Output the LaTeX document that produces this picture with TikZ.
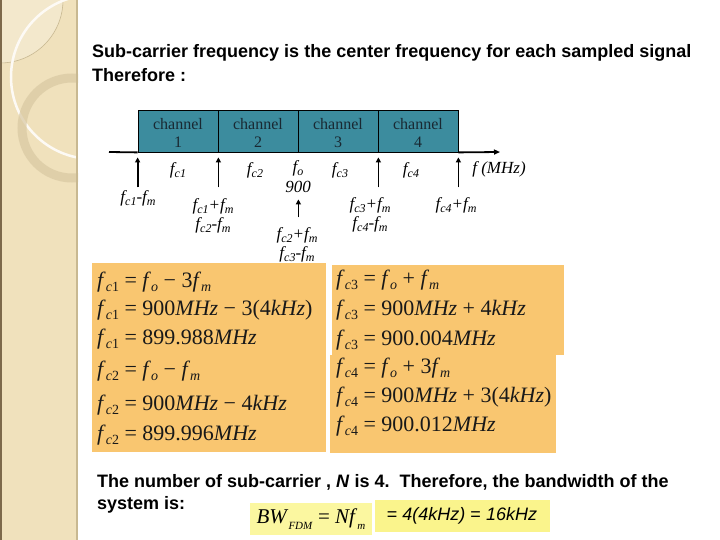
\documentclass[tikz,border=0pt]{standalone}
\usepackage{fontspec}
\setmainfont{Liberation Serif}
\newfontfamily\arialf{Liberation Sans}
\usetikzlibrary{arrows.meta}
\definecolor{side}{RGB}{240,225,188}
\definecolor{sideedge}{RGB}{125,105,75}
\definecolor{sideright}{RGB}{200,184,145}
\definecolor{chteal}{RGB}{60,140,158}
\definecolor{chtext}{RGB}{25,40,50}
\definecolor{eqorange}{RGB}{249,198,112}
\definecolor{ylwA}{RGB}{251,247,160}
\definecolor{ylwB}{RGB}{250,244,140}
\newcommand\es[1]{\raisebox{-4pt}{\fontsize{14}{14}\selectfont #1}}
\newcommand\ff[1]{\textit{f}\es{#1}}
\newcommand\ls[1]{\raisebox{-3pt}{\fontsize{12}{12}\selectfont #1}}
\newcommand\lf[1]{f\ls{#1}}
\newcommand\chtxt[1]{\raisebox{-2pt}[\dimexpr\height+2pt\relax][\dimexpr\depth-2pt\relax]{\begin{tabular}{@{}c@{}}channel\\[0pt]#1\end{tabular}}}
\begin{document}
\begin{tikzpicture}[x=1pt,y=-1pt,
  chbox/.style={draw=black,line width=0.8pt,fill=chteal,text=chtext,minimum width=80pt,minimum height=42pt,inner sep=0pt,font=\fontsize{16}{18}\selectfont},
  lbl/.style={inner sep=0pt,align=center,font=\itshape\fontsize{17}{19}\selectfont},
  axisline/.style={line width=1.8pt},
  uparr/.style={line width=1.8pt,-{Triangle[length=5pt,width=5pt]}},
  eq/.style={anchor=west,inner sep=0pt,font=\fontsize{22}{26}\selectfont,text=black!90},
  para/.style={anchor=west,inner sep=0pt,font=\arialf\bfseries\fontsize{18}{21}\selectfont}]
\useasboundingbox (0,0) rectangle (720,540);
\fill[white] (0,0) rectangle (720,540);
% sidebar
\begin{scope}
  \clip (0,0) rectangle (78,540);
  \fill[side] (0,0) rectangle (78,540);
  \fill[white,opacity=0.25] (0,0) circle (63pt);
  \draw[sideright,line width=0.6pt] (0,0) circle (63pt);
  \draw[white!85!side,line width=2.5pt] (93,77) circle (82pt);
  \draw[sideright!60!side,line width=9pt,opacity=0.7] (72,128) circle (50pt);
\end{scope}
\draw[sideedge,line width=2pt] (1,0) -- (1,540);
\draw[sideright,line width=2pt] (77,0) -- (77,540);
% title
\node[para] (t1) at (92,53) {Sub-carrier frequency is the center frequency for each sampled signal};
\node[para] (t2) at (92,75) {Therefore :};
% channels
\node[chbox] (ch1) at (178,131) {\chtxt{1}};
\node[chbox] (ch2) at (258,131) {\chtxt{2}};
\node[chbox] (ch3) at (338,131) {\chtxt{3}};
\node[chbox] (ch4) at (418,131) {\chtxt{4}};
\coordinate (ax0) at (109,152);
\coordinate (ax1) at (500,152);
\draw[axisline] (ax0) -- (ch1.south west);
\draw[axisline,-{Triangle[length=6pt,width=5pt]}] (ch4.south east) -- (ax1);
% arrows
\draw[uparr] ([yshift=-35pt]ch1.south west) -- ([yshift=-5pt]ch1.south west);
\draw[uparr] ([yshift=-35pt]ch1.south east) -- ([yshift=-5pt]ch1.south east);
\draw[uparr] ([yshift=-65pt]ch2.south east) -- ([yshift=-47pt]ch2.south east);
\draw[uparr] ([yshift=-35pt]ch3.south east) -- ([yshift=-5pt]ch3.south east);
\draw[uparr] ([yshift=-35pt]ch4.south east) -- ([yshift=-5pt]ch4.south east);
% labels
\node[lbl] (fc1) at (178,170) {\lf{c1}};
\node[lbl] (fc2) at (255,170) {\lf{c2}};
\node[lbl] (fo) at (298,168) {\lf{o}};
\node[lbl] (f900) at (298,187) {900};
\node[lbl] (fc3) at (340,170) {\lf{c3}};
\node[lbl] (fc4) at (411,170) {\lf{c4}};
\node[lbl] (fmhz) at (499,169) {f (MHz)};
\node[lbl] (l1) at (138,198) {\lf{c1}-\lf{m}};
\node[lbl] (l2) at (213,216) {\lf{c1}+\lf{m}\\\lf{c2}-\lf{m}};
\node[lbl] (l3) at (297,245) {\lf{c2}+\lf{m}\\\lf{c3}-\lf{m}};
\node[lbl] (l4) at (370,215) {\lf{c3}+\lf{m}\\\lf{c4}-\lf{m}};
\node[lbl] (l5) at (456,205) {\lf{c4}+\lf{m}};
% equation boxes
\fill[eqorange] (92,263) rectangle (326,452);
\fill[eqorange] (332,265) rectangle (564,355);
\fill[eqorange] (330,355) rectangle (556,453);
\node[eq] (e1) at (97,282) {\ff{\textit{c}1} = \ff{\textit{o}} − 3\ff{\textit{m}}};
\node[eq] (e2) at (97,310) {\ff{\textit{c}1} = 900\textit{MHz} − 3(4\textit{kHz})};
\node[eq] (e3) at (97,339) {\ff{\textit{c}1} = 899.988\textit{MHz}};
\node[eq] (e4) at (97,371) {\ff{\textit{c}2} = \ff{\textit{o}} − \ff{\textit{m}}};
\node[eq] (e5) at (97,405) {\ff{\textit{c}2} = 900\textit{MHz} − 4\textit{kHz}};
\node[eq] (e6) at (97,435) {\ff{\textit{c}2} = 899.996\textit{MHz}};
\node[eq] (e7) at (336,280) {\ff{\textit{c}3} = \ff{\textit{o}} + \ff{\textit{m}}};
\node[eq] (e8) at (336,310) {\ff{\textit{c}3} = 900\textit{MHz} + 4\textit{kHz}};
\node[eq] (e9) at (336,340) {\ff{\textit{c}3} = 900.004\textit{MHz}};
\node[eq] (e10) at (336,368) {\ff{\textit{c}4} = \ff{\textit{o}} + 3\ff{\textit{m}}};
\node[eq] (e11) at (336,397) {\ff{\textit{c}4} = 900\textit{MHz} + 3(4\textit{kHz})};
\node[eq] (e12) at (336,426) {\ff{\textit{c}4} = 900.012\textit{MHz}};
% bottom text
\node[para] (b1) at (97,482) {The number of sub-carrier , \textit{N} is 4.~~Therefore, the bandwidth of the};
\node[para] (b2) at (97,505) {system is:};
\node[fill=ylwA,minimum width=122pt,minimum height=32pt,inner sep=0pt,font=\fontsize{21}{24}\selectfont] (bw) at (311,519) {\textit{BW}\raisebox{-6pt}{\fontsize{11}{11}\selectfont\textit{FDM}} = \textit{Nf}\raisebox{-6pt}{\fontsize{11}{11}\selectfont\textit{m}}};
\node[fill=ylwB,minimum width=175pt,minimum height=32pt,inner sep=0pt,font=\arialf\fontsize{18}{21}\selectfont] (res) at (462,516) {= \textit{4(4kHz)} = \textit{16kHz}};
\end{tikzpicture}
\end{document}
